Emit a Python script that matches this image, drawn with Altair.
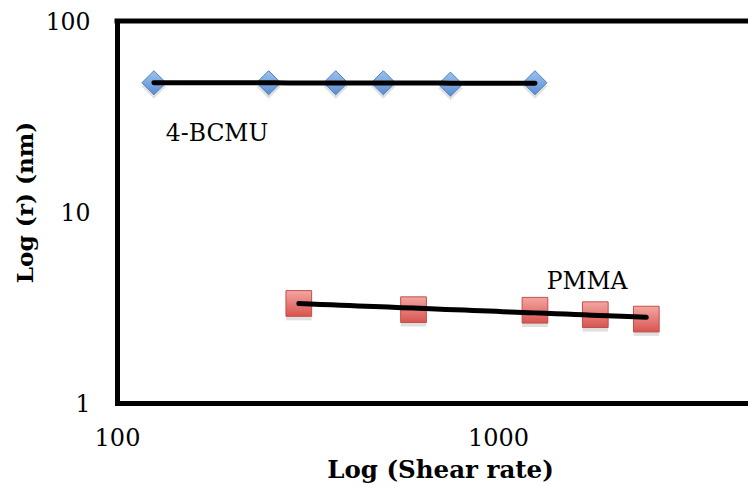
import altair as alt
import pandas as pd

bcmu_x = [125, 250, 375, 500, 750, 1250]
bcmu_y = [47.5, 47.5, 47.5, 47.5, 46.7, 47.5]
pmma_x = [300, 600, 1250, 1800, 2450]
pmma_y = [3.32, 3.08, 3.06, 2.90, 2.75]

df = pd.DataFrame({
    "x": bcmu_x + pmma_x,
    "y": bcmu_y + pmma_y,
    "series": ["4-BCMU"] * len(bcmu_x) + ["PMMA"] * len(pmma_x),
})

FONT = "DejaVu Serif"
W, H = 631, 382

xs = alt.Scale(type="log", domain=[100, 4529], nice=False)
ys = alt.Scale(type="log", domain=[1, 100], nice=False)

xax = alt.Axis(values=[100, 1000], format="d", grid=False, ticks=False, labelFlush=False,
               domainWidth=5, domainColor="black", domainCap="square",
               labelFont=FONT, labelFontSize=24, labelColor="black", labelPadding=23,
               title="Log (Shear rate)", titleFont=FONT, titleFontSize=24.5,
               titleFontWeight="bold", titleColor="black", titleX=323, titleY=74,
               titleBaseline="alphabetic", titleAlign="center")
yax = alt.Axis(values=[1, 10, 100], format="d", grid=False, ticks=False, labelFlush=False,
               domainWidth=5, domainColor="black", domainCap="square", labelOffset=1,
               labelFont=FONT, labelFontSize=23.5, labelColor="black", labelPadding=27,
               title="Log (r) (nm)", titleFont=FONT, titleFontSize=23.2,
               titleFontWeight="bold", titleColor="black", titleX=-92, titleY=181,
               titleAngle=270, titleBaseline="middle", titleAlign="center")

base = alt.Chart(df)
enc_x = alt.X("x:Q", scale=xs, axis=xax)
enc_y = alt.Y("y:Q", scale=ys, axis=yax)

blue_grad = alt.Gradient(gradient="linear", x1=0, x2=0, y1=0, y2=1,
                         stops=[alt.GradientStop(color="#9cc2ee", offset=0),
                                alt.GradientStop(color="#5a8ed2", offset=1)])
red_grad = alt.Gradient(gradient="linear", x1=0, x2=0, y1=0, y2=1,
                        stops=[alt.GradientStop(color="#f4a6a2", offset=0),
                               alt.GradientStop(color="#d9544f", offset=1)])

bcmu_shadow = base.transform_filter(alt.datum.series == "4-BCMU").mark_point(
    shape="diamond", size=580, filled=True, color="#000000", opacity=0.12, yOffset=4
).encode(x=enc_x, y=enc_y)
pmma_shadow = base.transform_filter(alt.datum.series == "PMMA").mark_point(
    shape="square", size=660, filled=True, color="#000000", opacity=0.12, yOffset=4
).encode(x=enc_x, y=enc_y)

bcmu_pts = base.transform_filter(alt.datum.series == "4-BCMU").mark_point(
    shape="diamond", size=580, filled=True, fill=blue_grad, stroke="#4f81bd",
    strokeWidth=1, opacity=1
).encode(x=enc_x, y=enc_y)
pmma_pts = base.transform_filter(alt.datum.series == "PMMA").mark_point(
    shape="square", size=660, filled=True, fill=red_grad, stroke="#c0504d",
    strokeWidth=1, opacity=1
).encode(x=enc_x, y=enc_y)

trend = base.transform_regression(
    "x", "y", method="pow", groupby=["series"]
).mark_line(color="black", strokeWidth=5, strokeCap="round").encode(
    x=enc_x, y=enc_y, detail="series:N"
)

top_border = alt.Chart(pd.DataFrame({"v": [0]})).mark_rule(
    color="black", strokeWidth=5, strokeCap="square"
).encode(y=alt.datum(100, scale=ys), x=alt.value(0), x2=alt.value(W))

lab_bcmu = alt.Chart(pd.DataFrame({"t": ["4-BCMU"]})).mark_text(
    font=FONT, fontSize=23.5, color="black", align="center", baseline="alphabetic"
).encode(x=alt.datum(183), y=alt.datum(23.6), text="t:N")
lab_pmma = alt.Chart(pd.DataFrame({"t": ["PMMA"]})).mark_text(
    font=FONT, fontSize=23.5, color="black", align="center", baseline="alphabetic"
).encode(x=alt.datum(1713), y=alt.datum(3.94), text="t:N")

chart = alt.layer(
    bcmu_shadow, pmma_shadow, bcmu_pts, pmma_pts, trend, top_border, lab_bcmu, lab_pmma
).properties(
    width=W, height=H,
    padding={"left": 109, "top": 13, "right": 0, "bottom": 82},
    autosize=alt.AutoSizeParams(type="none"),
).configure_view(stroke=None).configure(background="white")

chart.save("out.html", embed_options={"renderer": "svg", "actions": False})
